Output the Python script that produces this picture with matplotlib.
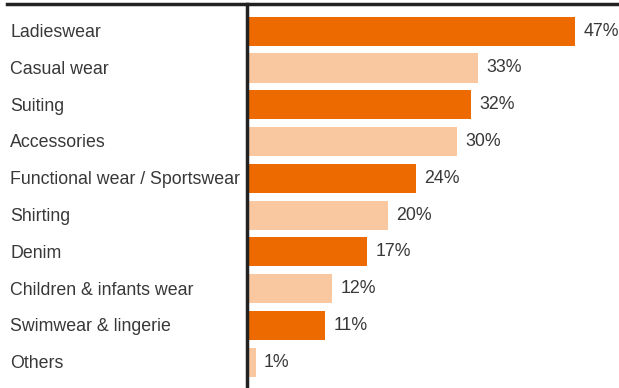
import matplotlib.pyplot as plt
from matplotlib.lines import Line2D

categories = ['Ladieswear', 'Casual wear', 'Suiting', 'Accessories',
              'Functional wear / Sportswear', 'Shirting', 'Denim',
              'Children & infants wear', 'Swimwear & lingerie', 'Others']
values = [47, 33, 32, 30, 24, 20, 17, 12, 11, 1]

dark = '#ED6A00'
light = '#F9C8A0'
colors = [dark if i % 2 == 0 else light for i in range(len(values))]

plt.rcParams['font.family'] = ['Liberation Sans', 'DejaVu Sans']

fig = plt.figure(figsize=(6.19, 3.88), dpi=100)
W, H = 619, 388
ax = fig.add_axes([247 / W, 0, 1 - 247 / W, 1 - 4 / H])

pos = list(range(len(values)))
ax.barh(pos, values, height=0.79, color=colors, left=0.25)
ax.set_xlim(0, 372 / 6.95)
ax.set_ylim(9.7, -0.74)

for p, v in zip(pos, values):
    ax.text(v + 0.25 + 1.2, p, '%d%%' % v, va='center', ha='left',
            fontsize=12.8, color='#383838')

for p, c in zip(pos, categories):
    fig.text(10 / W, 1 - (32.5 + p * 36.8) / H, c, va='center', ha='left',
             fontsize=12.8, color='#383838')

for s in ['top', 'right', 'bottom']:
    ax.spines[s].set_visible(False)
ax.spines['left'].set_linewidth(2.5)
ax.spines['left'].set_color('#222222')
ax.set_xticks([])
ax.set_yticks([])

fig.add_artist(Line2D([7 / W, 617 / W], [1 - 4 / H, 1 - 4 / H],
                      transform=fig.transFigure, color='#222222', lw=2.5))

fig.savefig('out.png', dpi=100)
